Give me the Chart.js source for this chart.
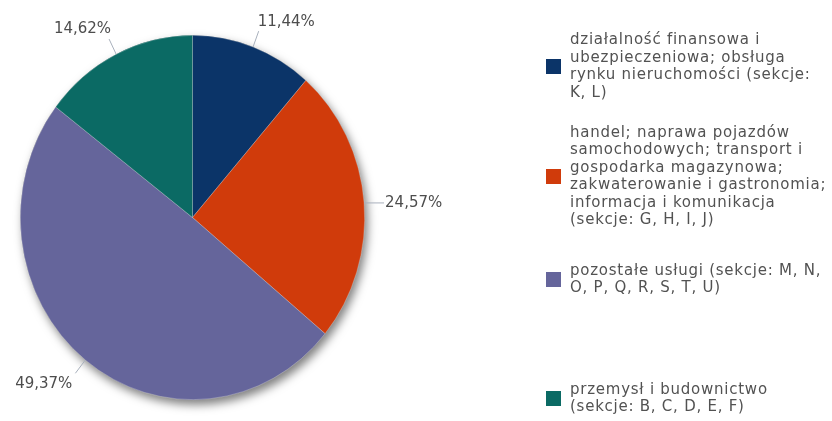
<!DOCTYPE html>
<html>
<head>
<meta charset="utf-8">
<script src="https://cdn.jsdelivr.net/npm/chart.js@4"></script>
<style>
  html, body { margin: 0; padding: 0; background: #ffffff; }
  #wrap { position: relative; width: 832px; height: 421px; overflow: hidden; }
  #chart-box { position: absolute; left: 0; top: 0; width: 832px; height: 421px; }
  .legend-item { position: absolute; left: 546px; display: flex; align-items: center; }
  .legend-color { width: 15px; height: 15px; margin-right: 9px; flex: none; }
  .legend-text { font-family: "DejaVu Sans", sans-serif; font-size: 15px; line-height: 17.5px; letter-spacing: 0.75px; color: #525252; white-space: pre; }
</style>
</head>
<body>
<div id="wrap">
  <div id="chart-box"><canvas id="chart"></canvas></div>
  <div id="legend-wrapper"></div>
</div>
<script>
Chart.defaults.plugins.legend.display = false;

// data
const categories = [
    ['działalność finansowa i', 'ubezpieczeniowa; obsługa', 'rynku nieruchomości (sekcje:', 'K, L)'],
    ['handel; naprawa pojazdów', 'samochodowych; transport i', 'gospodarka magazynowa;', 'zakwaterowanie i gastronomia;', 'informacja i komunikacja', '(sekcje: G, H, I, J)'],
    ['pozostałe usługi (sekcje: M, N,', 'O, P, Q, R, S, T, U)'],
    ['przemysł i budownictwo', '(sekcje: B, C, D, E, F)']
];
const shares = [11.44, 24.57, 49.37, 14.62];
const colors = ['#0b3468', '#d03b0b', '#65659b', '#0b6a64'];

// layout
const legendCenters = [66, 176, 279, 398];
const stretchY = 1.058; // pie is a bit taller than wide

const ctx = document.getElementById('chart');

// ellipse + drop shadow behind the slices
const pieShape = {
    id: 'pieShape',
    beforeDatasetsDraw(chart) {
        const arc = chart.getDatasetMeta(0).data[0];
        if (!arc) return;
        const c = chart.ctx;
        c.save();
        c.shadowColor = 'rgba(0,0,0,0.5)';
        c.shadowBlur = 10;
        c.shadowOffsetX = 3;
        c.shadowOffsetY = 5;
        c.fillStyle = '#888';
        c.beginPath();
        c.ellipse(arc.x, arc.y, arc.outerRadius, arc.outerRadius * stretchY, 0, 0, Math.PI * 2);
        c.fill();
        c.restore();
        c.save();
        c.translate(arc.x, arc.y);
        c.scale(1, stretchY);
        c.translate(-arc.x, -arc.y);
    },
    afterDatasetsDraw(chart) {
        chart.ctx.restore();
    }
};

// percent labels with leader lines
const pieLabels = {
    id: 'pieLabels',
    afterDraw(chart) {
        const c = chart.ctx;
        const meta = chart.getDatasetMeta(0);
        c.save();
        c.font = '15px "DejaVu Sans", sans-serif';
        c.fillStyle = '#4d4d4d';
        c.strokeStyle = '#a8b0bc';
        c.lineWidth = 1;
        meta.data.forEach((arc, i) => {
            const a = (arc.startAngle + arc.endAngle) / 2;
            const r = arc.outerRadius;
            const cs = Math.cos(a), sn = Math.sin(a);
            const x0 = arc.x + cs * r, y0 = arc.y + sn * r * stretchY;
            const x1 = arc.x + cs * (r + 16), y1 = arc.y + sn * (r + 16) * stretchY;
            let tx = x1, ty = y1;
            if (Math.abs(sn) < 0.3) {
                c.beginPath(); c.moveTo(x0, y0); c.lineTo(x1 + 4, y0); c.stroke();
                tx = x1 + 5; ty = y0;
                c.textBaseline = 'middle';
            } else {
                c.beginPath(); c.moveTo(x0, y0); c.lineTo(x1, y1); c.stroke();
                c.textBaseline = sn < 0 ? 'bottom' : 'top';
                ty = sn < 0 ? y1 - 2 : y1 + 3;
                tx = cs >= 0 ? x1 - 1 : (sn < 0 ? x1 + 2 : x1 - 3);
            }
            c.textAlign = cs >= 0 ? 'left' : 'right';
            c.fillText(shares[i].toFixed(2).replace('.', ',') + '%', tx, ty);
        });
        c.restore();
    }
};

const config = {
    type: 'pie',
    data: {
        labels: categories,
        datasets: [{
            data: shares,
            backgroundColor: colors,
            borderColor: 'rgba(255,255,255,0.35)',
            borderWidth: 0.7
        }]
    },
    options: {
        responsive: true,
        maintainAspectRatio: false,
        animation: false,
        layout: {
            padding: { left: 20, right: 467, top: 45, bottom: 31 }
        },
        plugins: {
            tooltip: { enabled: false }
        }
    },
    plugins: [pieShape, pieLabels]
};

const myChart = new Chart(ctx, config);

// custom legend
const legendContainer = document.getElementById('legend-wrapper');
categories.forEach((lines, index) => {
    const legendItem = document.createElement('div');
    legendItem.classList.add('legend-item');

    const colorIndicator = document.createElement('div');
    colorIndicator.classList.add('legend-color');
    colorIndicator.style.backgroundColor = colors[index];

    const textBlock = document.createElement('span');
    textBlock.classList.add('legend-text');
    textBlock.textContent = lines.join('\n');

    legendItem.appendChild(colorIndicator);
    legendItem.appendChild(textBlock);
    legendContainer.appendChild(legendItem);

    legendItem.style.top = (legendCenters[index] - legendItem.offsetHeight / 2) + 'px';
});
</script>
</body>
</html>
